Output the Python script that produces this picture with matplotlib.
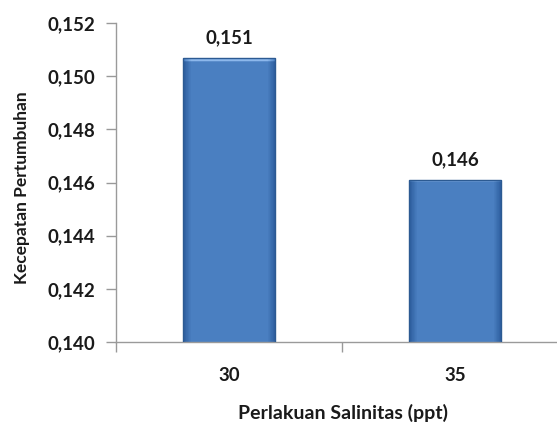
import numpy as np
import matplotlib.pyplot as plt
from matplotlib.colors import LinearSegmentedColormap

categories = ["30", "35"]
values = [0.1507, 0.1461]
value_labels = ["0,151", "0,146"]
y_ticks = [0.140, 0.142, 0.144, 0.146, 0.148, 0.150, 0.152]
y_tick_labels = ["0,140", "0,142", "0,144", "0,146", "0,148", "0,150", "0,152"]

plt.rcParams['font.family'] = ['Lato', 'DejaVu Sans']

fig = plt.figure(figsize=(5.57, 4.29), dpi=100)
ax = fig.add_axes([116 / 557, 1 - 342 / 429, 452 / 557, 319 / 429])

x = np.arange(len(categories))
bars = ax.bar(x, values, width=0.41, color="none", edgecolor="#2c5a92", linewidth=1.0, zorder=3)

# bevel-like gradient fill for each bar
cmap = LinearSegmentedColormap.from_list("bev", ["#2d5e9e", "#4a7fc1", "#8db8ec"])
cols = np.linspace(0, 1, 60)
prof_x = np.clip(np.minimum(cols, 1 - cols) * 12, 0, 1) * 0.5
rows = np.linspace(0, 1, 200)
top = np.where(rows > 0.985, 1.0, 0.0)
grad = np.clip(prof_x[None, :] + top[:, None] * 0.5, 0, 1)
for b in bars:
    x0, w = b.get_x(), b.get_width()
    im = ax.imshow(grad, cmap=cmap, vmin=0, vmax=1, aspect="auto", origin="lower",
                   extent=[x0, x0 + w, 0.140, b.get_height()], zorder=2)
    im.set_clip_path(b)

for xi, v, lab in zip(x, values, value_labels):
    ax.annotate(lab, (xi, v), xytext=(0, 8), textcoords="offset points",
                ha="center", va="bottom", fontsize=13.5, fontweight="bold", color="#1a1a1a")

ax.set_xlim(-0.5, 1.5)
ax.set_ylim(0.140, 0.152)
ax.set_yticks(y_ticks)
ax.set_yticklabels(y_tick_labels)
ax.set_xticks(x)
ax.set_xticklabels(categories)
ax.set_xticks([-0.5, 0.5, 1.5], minor=True)
ax.tick_params(axis="x", which="major", length=0, pad=18)
ax.tick_params(axis="x", which="minor", length=7, color="#999999", width=1)
ax.tick_params(axis="y", length=7, color="#999999", width=1, pad=8)
for t in ax.get_xticklabels() + ax.get_yticklabels():
    t.set_fontsize(13.5)
    t.set_fontweight("bold")
    t.set_color("#1a1a1a")

for s in ["top", "right"]:
    ax.spines[s].set_visible(False)
for s in ["left", "bottom"]:
    ax.spines[s].set_color("#9a9a9a")
    ax.spines[s].set_linewidth(1)

ax.set_ylabel("Kecepatan Pertumbuhan", fontsize=12.5, fontweight="bold", color="#1a1a1a",
              va="center")
ax.yaxis.set_label_coords(-(116 - 22) / 452, (342 - 188) / 319)
ax.set_xlabel("Perlakuan Salinitas (ppt)", fontsize=14, fontweight="bold", color="#1a1a1a",
              va="center")
ax.xaxis.set_label_coords((343 - 116) / 452, -(413 - 342) / 319)

fig.savefig("out.png", dpi=100)
